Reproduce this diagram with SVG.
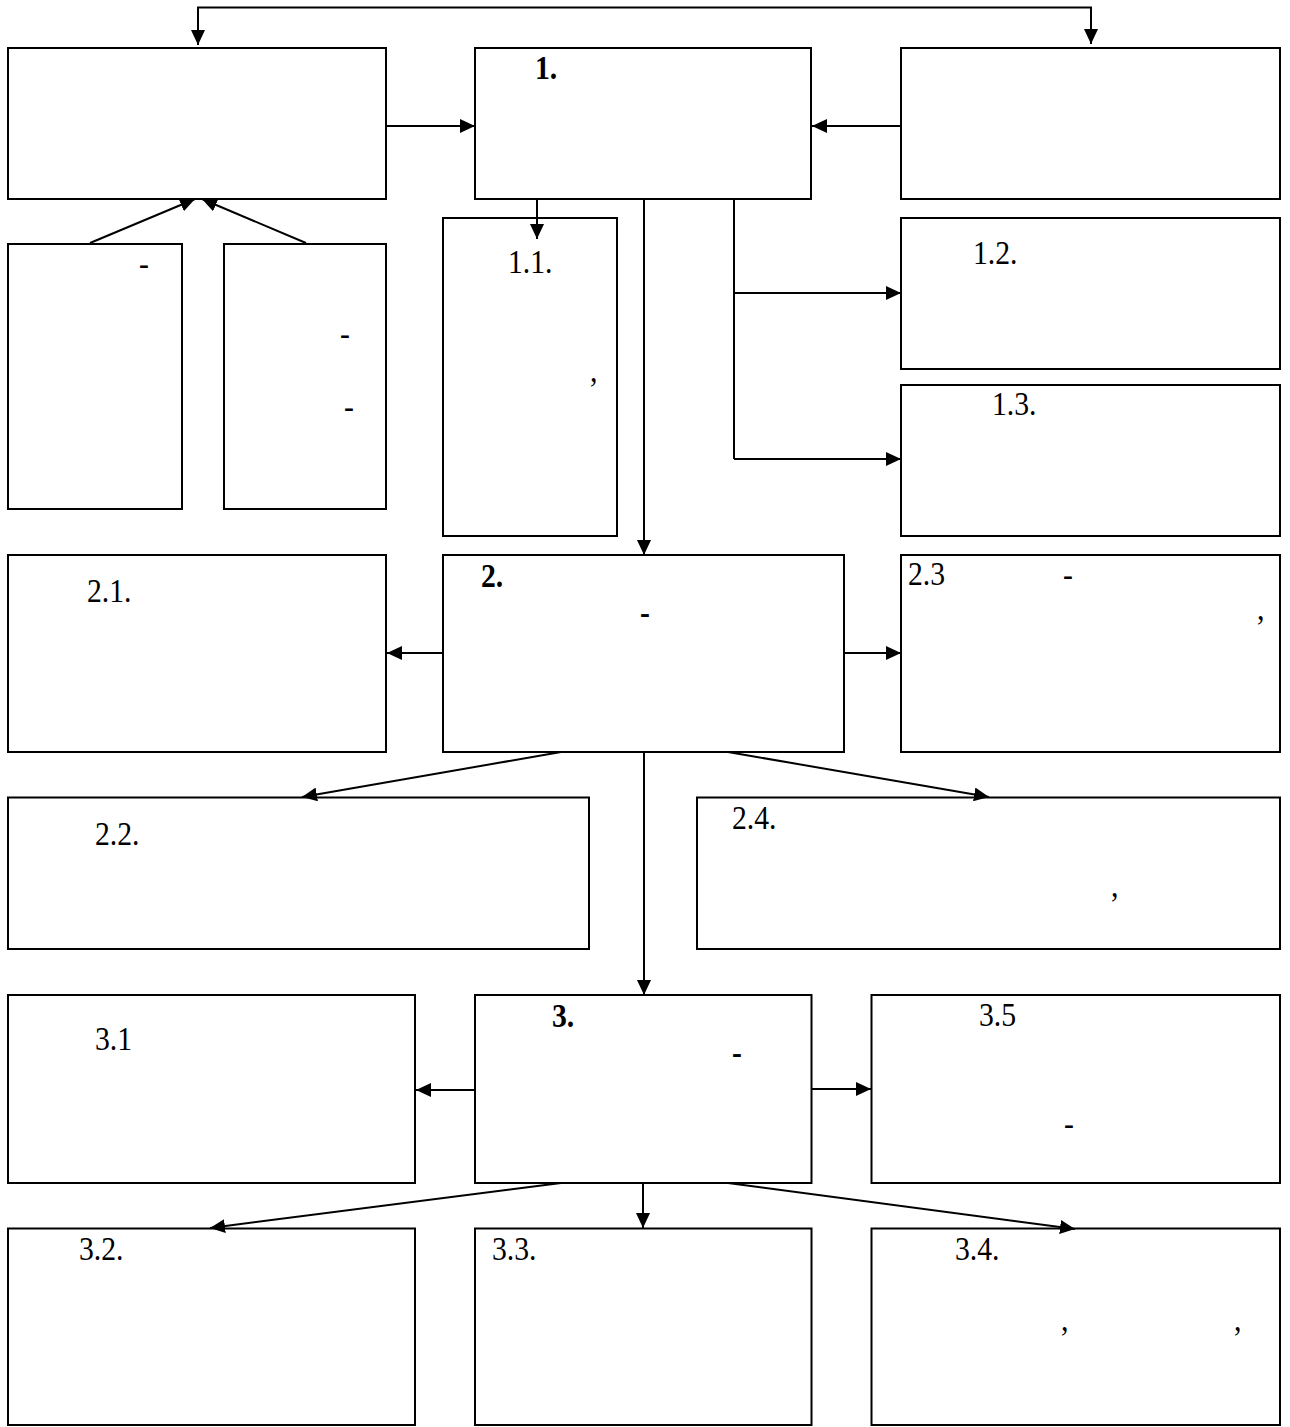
<svg xmlns="http://www.w3.org/2000/svg" width="1290" height="1427" viewBox="0 0 1290 1427">
<style>
  .box { fill: #ffffff; stroke: #000000; stroke-width: 2; }
  .t { font-family: "Liberation Serif", "DejaVu Serif", serif; font-size: 33px; fill: #000000; }
  .b { font-weight: bold; }
  .c { fill: none; stroke: #000000; stroke-width: 2; marker-end: url(#arr); }
  .p { fill: none; stroke: #000000; stroke-width: 2; }
</style>
<defs>
  <marker id="arr" markerUnits="userSpaceOnUse" markerWidth="15" markerHeight="14" refX="15" refY="7" orient="auto">
    <path d="M0,0 L15,7 L0,14 Z" fill="#000000"/>
  </marker>
</defs>
<rect x="0" y="0" width="1290" height="1427" fill="#ffffff"/>

<g id="nodeA"><rect class="box" x="8" y="48" width="378" height="151"/></g>
<g id="node1"><rect class="box" x="475" y="48" width="336" height="151"/><text class="t b" transform="translate(535 79) scale(0.9 1)">1.</text></g>
<g id="nodeB"><rect class="box" x="901" y="48" width="379" height="151"/></g>
<g id="nodeL1"><rect class="box" x="8" y="244" width="174" height="265"/><text class="t" transform="translate(139 275) scale(0.9 1)">-</text></g>
<g id="nodeL2"><rect class="box" x="224" y="244" width="162" height="265"/><text class="t" transform="translate(340 345) scale(0.9 1)">-</text><text class="t" transform="translate(344 418) scale(0.9 1)">-</text></g>
<g id="node1_1"><rect class="box" x="443" y="218" width="174" height="318"/><text class="t" transform="translate(508 273) scale(0.9 1)">1.1.</text><text class="t" transform="translate(590 382) scale(0.9 1)">,</text></g>
<g id="node1_2"><rect class="box" x="901" y="218" width="379" height="151"/><text class="t" transform="translate(973 264) scale(0.9 1)">1.2.</text></g>
<g id="node1_3"><rect class="box" x="901" y="385" width="379" height="151"/><text class="t" transform="translate(992 415) scale(0.9 1)">1.3.</text></g>

<g id="node2_1"><rect class="box" x="8" y="555" width="378" height="197"/><text class="t" transform="translate(87 602) scale(0.9 1)">2.1.</text></g>
<g id="node2"><rect class="box" x="443" y="555" width="401" height="197"/><text class="t b" transform="translate(481 587) scale(0.9 1)">2.</text><text class="t b" transform="translate(640 624) scale(0.9 1)">-</text></g>
<g id="node2_3"><rect class="box" x="901" y="555" width="379" height="197"/><text class="t" transform="translate(908 585) scale(0.9 1)">2.3</text><text class="t" transform="translate(1063 586) scale(0.9 1)">-</text><text class="t" transform="translate(1257 620) scale(0.9 1)">,</text></g>
<g id="node2_2"><rect class="box" x="8" y="797.5" width="581" height="151.5"/><text class="t" transform="translate(95 845) scale(0.9 1)">2.2.</text></g>
<g id="node2_4"><rect class="box" x="697" y="797.5" width="583" height="151.5"/><text class="t" transform="translate(732 829) scale(0.9 1)">2.4.</text><text class="t" transform="translate(1111 897) scale(0.9 1)">,</text></g>

<g id="node3_1"><rect class="box" x="8" y="995" width="407" height="188"/><text class="t" transform="translate(95 1050) scale(0.9 1)">3.1</text></g>
<g id="node3"><rect class="box" x="475" y="995" width="336.5" height="188"/><text class="t b" transform="translate(552 1027) scale(0.9 1)">3.</text><text class="t b" transform="translate(732 1064) scale(0.9 1)">-</text></g>
<g id="node3_5"><rect class="box" x="871.5" y="995" width="408.5" height="188"/><text class="t" transform="translate(979 1026) scale(0.9 1)">3.5</text><text class="t" transform="translate(1064 1135) scale(0.9 1)">-</text></g>
<g id="node3_2"><rect class="box" x="8" y="1228.5" width="407" height="196.5"/><text class="t" transform="translate(79 1260) scale(0.9 1)">3.2.</text></g>
<g id="node3_3"><rect class="box" x="475" y="1228.5" width="336.5" height="196.5"/><text class="t" transform="translate(492 1260) scale(0.9 1)">3.3.</text></g>
<g id="node3_4"><rect class="box" x="871.5" y="1228.5" width="408.5" height="196.5"/><text class="t" transform="translate(955 1260) scale(0.9 1)">3.4.</text><text class="t" transform="translate(1061 1331) scale(0.9 1)">,</text><text class="t" transform="translate(1234 1331) scale(0.9 1)">,</text></g>

<g id="connectors">
  <path class="c" d="M645,7.5 H198 V45"/>
  <path class="c" d="M645,7.5 H1091 V44"/>
  <path class="c" d="M386,126 H475"/>
  <path class="c" d="M901,126 H812"/>
  <path class="c" d="M90,243 L195,199"/>
  <path class="c" d="M306,243 L202,199"/>
  <path class="c" d="M537,199 V239"/>
  <path class="c" d="M644,199 V555"/>
  <path class="p" d="M734,199 V459"/>
  <path class="c" d="M734,293 H901"/>
  <path class="c" d="M734,459 H901"/>
  <path class="c" d="M442,653 H387"/>
  <path class="c" d="M845,653 H901"/>
  <path class="c" d="M561,752 L302,797"/>
  <path class="c" d="M728,752 L989,797"/>
  <path class="c" d="M644,752 V995"/>
  <path class="c" d="M475,1090 H416"/>
  <path class="c" d="M812,1089 H871"/>
  <path class="c" d="M561,1183 L210,1228"/>
  <path class="c" d="M643,1183 V1228"/>
  <path class="c" d="M728,1183 L1075,1229"/>
</g>
</svg>
